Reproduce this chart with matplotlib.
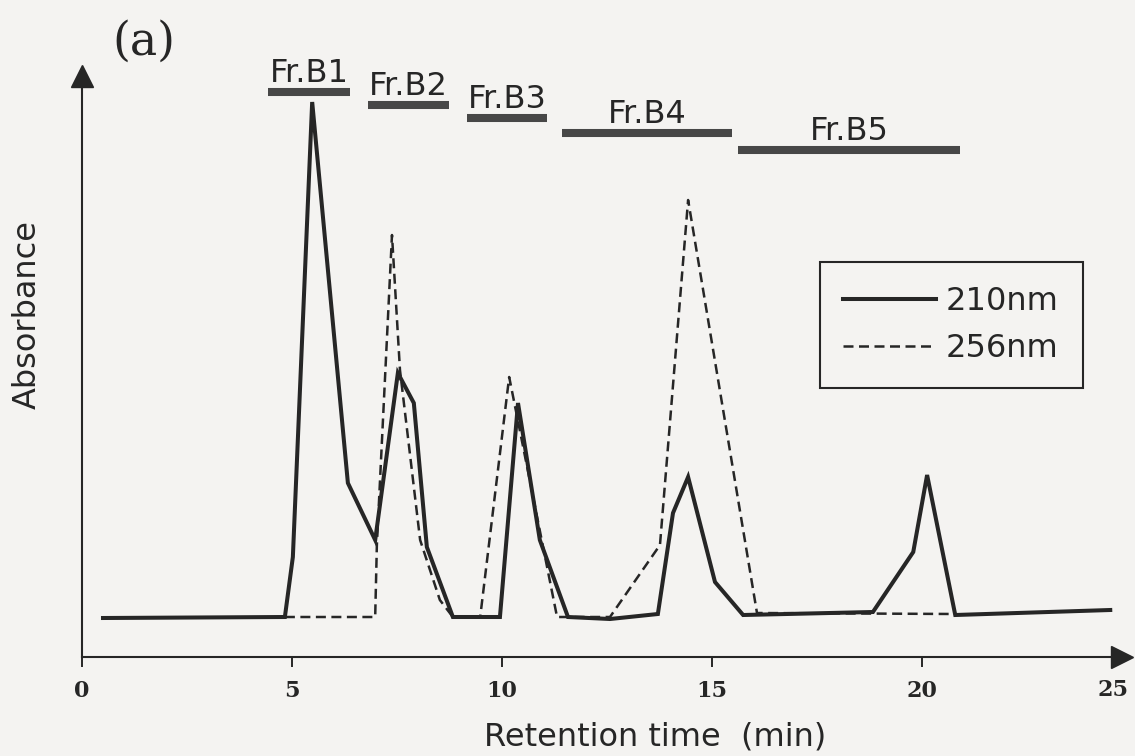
import matplotlib
matplotlib.use("Agg")
import matplotlib.pyplot as plt
import matplotlib.transforms as mtransforms

plt.rcParams["font.family"] = "DejaVu Sans"

INK = "#262626"
PAPER = "#f4f3f1"

# ---------- data ----------
# 210 nm trace (solid)
t_210 = [0.50, 4.83, 5.02, 5.48, 6.33, 6.98, 7.52, 7.90, 8.21, 8.83, 9.95, 10.38, 10.90,
         11.57, 12.57, 13.71, 14.07, 14.43, 15.07, 15.74, 18.83, 19.79, 20.12, 20.79, 24.48]
a_210 = [0.39, 0.40, 1.00, 5.55, 1.74, 1.17, 2.84, 2.54, 1.10, 0.40, 0.40, 2.54, 1.17,
         0.40, 0.38, 0.43, 1.44, 1.80, 0.75, 0.42, 0.45, 1.05, 1.82, 0.42, 0.47]

# 256 nm trace (dashed)
t_256 = [4.83, 6.98, 7.02, 7.38, 7.57, 8.05, 8.52, 8.83, 9.48, 10.17, 11.31, 12.57,
         13.76, 14.43, 16.07, 20.79]
a_256 = [0.40, 0.40, 1.12, 4.22, 2.87, 1.17, 0.57, 0.40, 0.40, 2.80, 0.40, 0.40,
         1.12, 4.57, 0.44, 0.43]

# collected fractions (min)
fractions = ["Fr.B1", "Fr.B2", "Fr.B3", "Fr.B4", "Fr.B5"]
frac_start = [4.43, 6.81, 9.17, 11.43, 15.62]
frac_end = [6.38, 8.74, 11.07, 15.48, 20.90]

x_ticks = [0, 5, 10, 15, 20]
x_ticklabels = ["0", "5", "10", "15", "20"]

# layout only: vertical level of each fraction bar
bar_level = [5.65, 5.52, 5.39, 5.24, 5.07]

fig = plt.figure(figsize=(11.35, 7.56), dpi=100, facecolor=PAPER)
ax = fig.add_axes([0.07225, 0.13095, 0.9163, 0.7685], facecolor=PAPER)

ax.plot(t_256, a_256, color=INK, lw=1.8, linestyle=(0, (4, 2.2)), label="256nm", zorder=2)
ax.plot(t_210, a_210, color=INK, lw=2.9, solid_joinstyle="miter", label="210nm", zorder=3)

# fraction bars + names
ax.hlines(bar_level, frac_start, frac_end, colors="#474747", lw=5.8)
for name, s, e, lvl in zip(fractions, frac_start, frac_end, bar_level):
    ax.annotate(name, xy=((s + e) / 2, lvl), xytext=(0, 7), textcoords="offset points",
                ha="center", va="baseline", fontsize=23, color=INK)

# axes as arrows
for side in ("top", "right"):
    ax.spines[side].set_visible(False)
for side in ("left", "bottom"):
    ax.spines[side].set_linewidth(1.5)
    ax.spines[side].set_color(INK)
ax.plot(1, 0, ">", transform=ax.transAxes, clip_on=False, ms=16, color=INK)
ax.plot(0, 1, "^", transform=ax.transAxes, clip_on=False, ms=16, color=INK)

ax.set_xlim(0, 24.76)
ax.set_ylim(0, 5.81)
ax.set_yticks([])
ax.set_xticks(x_ticks)
ax.set_xticklabels(x_ticklabels, fontfamily="DejaVu Serif", fontweight="bold", fontsize=16, color=INK)
ax.tick_params(axis="x", direction="out", length=7, width=1.4, color=INK, pad=9.5)
trans = mtransforms.blended_transform_factory(ax.transData, ax.transAxes)
ax.text(24.55, -0.0568, "25", transform=trans, ha="center", va="center",
        fontfamily="DejaVu Serif", fontweight="bold", fontsize=16, color=INK)

ax.set_xlabel("Retention time  (min)", fontsize=23, color=INK)
ax.xaxis.set_label_coords(0.551, -0.1377)
ax.xaxis.label.set_verticalalignment("center")
ax.set_ylabel("Absorbance", fontsize=23, color=INK)
ax.yaxis.set_label_coords(-0.053, 0.589)
ax.yaxis.label.set_verticalalignment("center")

leg = ax.legend(handles=ax.get_lines()[:2][::-1], loc="center",
                bbox_to_anchor=(0.8379, 0.5701), bbox_transform=fig.transFigure,
                fontsize=23, handlelength=2.9, handletextpad=0.3, labelspacing=0.5,
                borderpad=0.75, fancybox=False, framealpha=1, facecolor=PAPER)
leg.get_frame().set_edgecolor(INK)
leg.get_frame().set_linewidth(1.5)
for txt in leg.get_texts():
    txt.set_color(INK)

fig.text(144 / 1135, 1 - 42 / 756, "(a)", fontfamily="DejaVu Serif", fontsize=33,
         ha="center", va="center", color=INK)

fig.savefig("out.png", dpi=100, facecolor=PAPER)
